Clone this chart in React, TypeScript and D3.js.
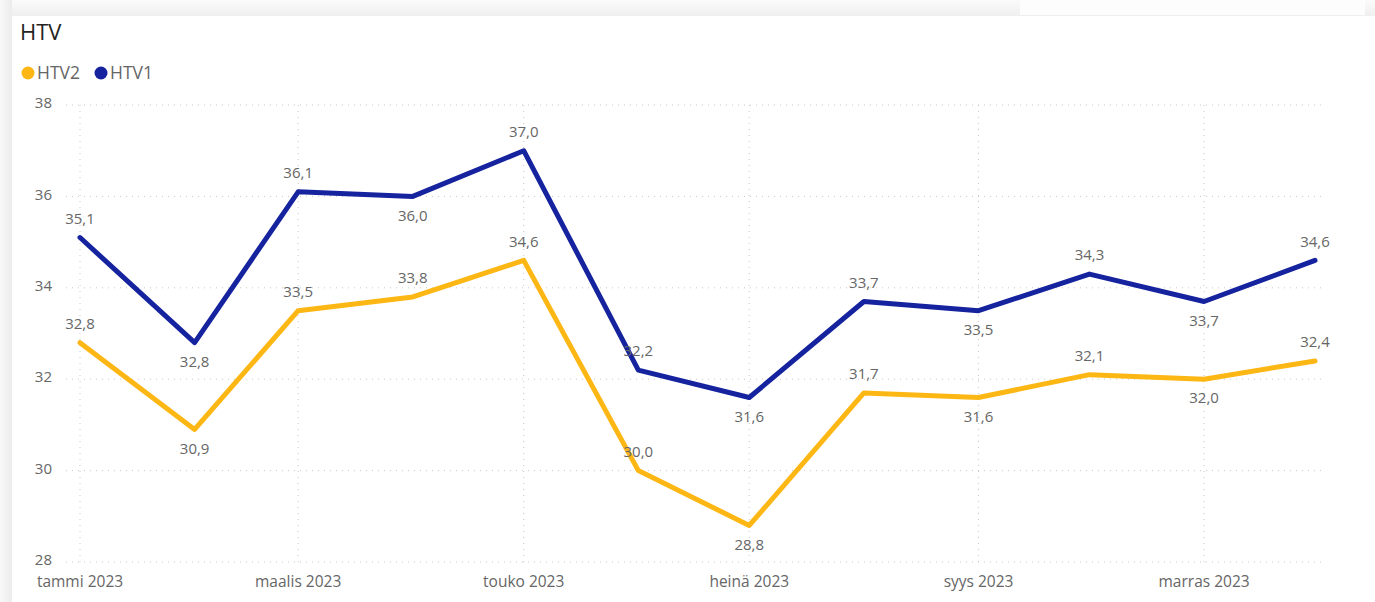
import * as d3 from 'd3';

const months = [
  'tammi', 'helmi', 'maalis', 'huhti', 'touko', 'kesä',
  'heinä', 'elo', 'syys', 'loka', 'marras', 'joulu',
];
const tickMonths = [0, 2, 4, 6, 8, 10];
const htv2 = [32.8, 30.9, 33.5, 33.8, 34.6, 30.0, 28.8, 31.7, 31.6, 32.1, 32.0, 32.4];
const htv1 = [35.1, 32.8, 36.1, 36.0, 37.0, 32.2, 31.6, 33.7, 33.5, 34.3, 33.7, 34.6];
// label above (-1) or below (+1) the point
const htv2Pos = [-1, 1, -1, -1, -1, -1, 1, -1, 1, -1, 1, -1];
const htv1Pos = [-1, 1, -1, 1, -1, -1, 1, -1, 1, -1, 1, -1];
const yTicks = [28, 30, 32, 34, 36, 38];

const W = 1375;
const H = 602;
const FONT = '"Open Sans", "Noto Sans", sans-serif';
const GREY = '#666666';

const series = [
  { name: 'HTV2', color: '#FDB714', values: htv2, pos: htv2Pos },
  { name: 'HTV1', color: '#16239E', values: htv1, pos: htv1Pos },
];

const dates = months.map((_, i) => new Date(2023, i, 1));

export default function App() {
  // continuous date axis, like the original
  const x = d3.scaleTime().domain([dates[0], dates[11]]).range([80, 1315]);
  const y = d3.scaleLinear().domain([28, 38]).range([562, 105]);
  const fmt = (v: number) => v.toFixed(1).replace('.', ',');

  const line = d3
    .line<number>()
    .x((_, i) => x(dates[i]))
    .y((d) => y(d));

  return (
    <svg
      width={W}
      height={H}
      style={{ position: 'fixed', left: 0, top: 0, fontFamily: FONT }}
    >
      <defs>
        <linearGradient id="leftShade" x1="0" x2="1" y1="0" y2="0">
          <stop offset="0" stopColor="#f8f8f8" />
          <stop offset="1" stopColor="#ececec" />
        </linearGradient>
        <linearGradient id="topShade" x1="0" x2="0" y1="0" y2="1">
          <stop offset="0" stopColor="#fbfbfb" />
          <stop offset="1" stopColor="#efefef" />
        </linearGradient>
      </defs>
      <rect width={W} height={H} fill="#f6f6f6" />
      <rect x={0} y={0} width={W} height={16} fill="url(#topShade)" />
      <rect x={0} y={0} width={12} height={H} fill="url(#leftShade)" />
      <rect x={12} y={16} width={W - 12} height={H - 16} fill="#ffffff" />
      {/* header strip at top right */}
      <rect x={1020} y={0} width={345} height={15} fill="#fdfdfd" />

      <text x={20} y={40} fontSize={22} fill="#252423">HTV</text>

      {/* legend */}
      {series.map((s, i) => {
        const lx = [28, 101][i];
        return (
          <g key={s.name}>
            <circle cx={lx} cy={73} r={6.5} fill={s.color} />
            <text x={lx + 9} y={79} fontSize={17.5} fill={GREY}>{s.name}</text>
          </g>
        );
      })}

      {/* grid */}
      {yTicks.map((t) => (
        <g key={t}>
          <line
            x1={66} x2={1326} y1={y(t)} y2={y(t)}
            stroke="#c8c8c8" strokeWidth={1} strokeDasharray="1 5"
          />
          <text
            x={52} y={y(t) - 2} dy="0.35em" textAnchor="end"
            fontSize={15} fill={GREY}
          >
            {t}
          </text>
        </g>
      ))}
      {tickMonths.map((m) => (
        <g key={m}>
          <line
            x1={x(dates[m])} x2={x(dates[m])} y1={y(38)} y2={y(28)}
            stroke="#c8c8c8" strokeWidth={1} strokeDasharray="1 5"
          />
          <text
            x={x(dates[m])} y={587} textAnchor="middle" fontSize={15.5} fill={GREY}
          >
            {`${months[m]} 2023`}
          </text>
        </g>
      ))}

      {/* lines */}
      {series.map((s) => (
        <path
          key={s.name}
          d={line(s.values) || ''}
          fill="none"
          stroke={s.color}
          strokeWidth={5}
          strokeLinejoin="round"
          strokeLinecap="round"
        />
      ))}

      {/* data labels */}
      {series.map((s) =>
        s.values.map((v, i) => (
          <text
            key={`${s.name}-${i}`}
            x={x(dates[i])}
            y={y(v) + s.pos[i] * 19}
            dy="0.35em"
            textAnchor="middle"
            fontSize={15}
            fill={GREY}
          >
            {fmt(v)}
          </text>
        )),
      )}
    </svg>
  );
}
